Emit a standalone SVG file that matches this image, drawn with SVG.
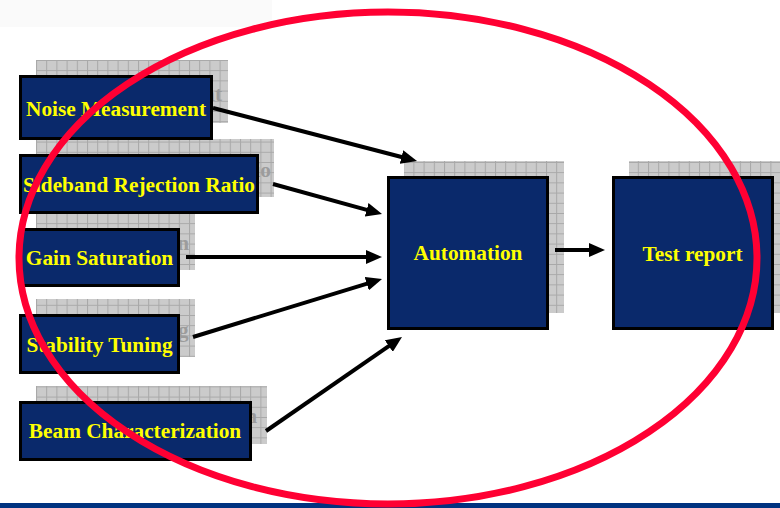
<svg xmlns="http://www.w3.org/2000/svg" width="780" height="508" viewBox="0 0 780 508">
  <defs>
    <style>
      .shadow { fill: url(#grid); }
      .shadow-text { font-family: "Liberation Serif", "Times New Roman", serif; font-weight: bold; font-size: 21.3px; fill: #9c9c9c; text-anchor: middle; }
      .box { fill: #0a296b; stroke: #000; stroke-width: 3; }
      .label { font-family: "Liberation Serif", "Times New Roman", serif; font-weight: bold; font-size: 21.3px; fill: #ffff00; text-anchor: middle; }
      .conn { stroke: #000; stroke-width: 4; fill: none; marker-end: url(#arrow); }
    </style>
    <!-- grey grid fill used for the drop shadows -->
    <pattern id="grid" patternUnits="userSpaceOnUse" x="36" y="60" width="10.2" height="10.2">
      <rect width="10.2" height="10.2" fill="#cbcbcb"/>
      <path d="M0,0.5 H10.2 M0.5,0 V10.2" stroke="#a8a8a8" stroke-width="1"/>
    </pattern>
    <marker id="arrow" markerUnits="userSpaceOnUse" markerWidth="16" markerHeight="14" refX="3" refY="7" orient="auto">
      <path d="M0,0 L16,7 L0,14 Z" fill="#000"/>
    </marker>
  </defs>

  <rect x="0" y="0" width="780" height="508" fill="#fff"/>
  <rect x="0" y="0" width="272" height="27" fill="#fafafa"/>

  <!-- input nodes, drawn bottom-up so each shadow stays behind the box above it -->
  <g id="beam-characterization">
    <rect class="shadow" x="36" y="386" width="231" height="58"/>
    <text class="shadow-text" x="151" y="423">Beam Characterization</text>
    <rect class="box" x="20.5" y="402.5" width="230" height="57"/>
    <text class="label" x="135" y="438">Beam Characterization</text>
  </g>

  <g id="stability-tuning">
    <rect class="shadow" x="36" y="299" width="159" height="58"/>
    <text class="shadow-text" x="115.5" y="337">Stability Tuning</text>
    <rect class="box" x="20.5" y="315.5" width="158" height="57"/>
    <text class="label" x="99.5" y="352">Stability Tuning</text>
  </g>

  <g id="gain-saturation">
    <rect class="shadow" x="36" y="213" width="159" height="57"/>
    <text class="shadow-text" x="115.5" y="250">Gain Saturation</text>
    <rect class="box" x="20.5" y="229.5" width="158" height="56"/>
    <text class="label" x="99.5" y="265">Gain Saturation</text>
  </g>

  <g id="sideband-rejection-ratio">
    <rect class="shadow" x="36" y="139" width="238" height="58"/>
    <text class="shadow-text" x="155" y="177">Sideband Rejection Ratio</text>
    <rect class="box" x="20.5" y="155.5" width="237" height="57"/>
    <text class="label" x="139" y="192">Sideband Rejection Ratio</text>
  </g>

  <g id="noise-measurement">
    <rect class="shadow" x="36" y="60" width="192" height="63"/>
    <text class="shadow-text" x="132" y="101">Noise Measurement</text>
    <rect class="box" x="20.5" y="76.5" width="191" height="62"/>
    <text class="label" x="116" y="116">Noise Measurement</text>
  </g>

  <g id="automation">
    <rect class="shadow" x="404" y="161" width="160" height="152"/>
    <rect class="box" x="388.5" y="177.5" width="159" height="151"/>
    <text class="label" x="468" y="260">Automation</text>
  </g>

  <g id="test-report">
    <rect class="shadow" x="629" y="161" width="160" height="152"/>
    <rect class="box" x="613.5" y="177.5" width="159" height="151"/>
    <text class="label" x="692.5" y="261">Test report</text>
  </g>

  <!-- connectors -->
  <g id="connectors">
    <line class="conn" x1="213" y1="108" x2="404.4" y2="157.7"/>
    <line class="conn" x1="273" y1="184" x2="369.5" y2="210.6"/>
    <line class="conn" x1="186" y1="257" x2="369" y2="257"/>
    <line class="conn" x1="193" y1="337" x2="369.6" y2="282.8"/>
    <line class="conn" x1="266" y1="431" x2="391.3" y2="344.4"/>
    <line class="conn" x1="555" y1="250" x2="592" y2="250"/>
  </g>

  <!-- footer band -->
  <rect x="0" y="503" width="780" height="5" fill="#003380"/>

  <!-- red highlight ring -->
  <ellipse cx="388" cy="258" rx="369" ry="246" fill="none" stroke="#ff0033" stroke-width="7"/>
</svg>
